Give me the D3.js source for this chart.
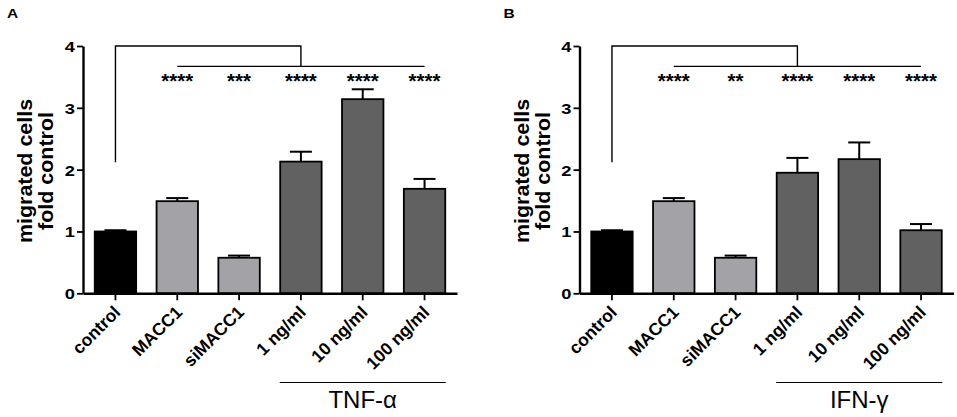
<!DOCTYPE html>
<html>
<head>
<meta charset="utf-8">
<script src="https://cdn.jsdelivr.net/npm/d3@7"></script>
<style>
  body { margin: 0; background: #fff; }
  svg text { font-family: Arial, "Liberation Sans", sans-serif; }
</style>
</head>
<body>
<svg width="957" height="417"></svg>
<script>
// data
var categories = ["control", "MACC1", "siMACC1", "1 ng/ml", "10 ng/ml", "100 ng/ml"];
var tnfMeans = [1.0, 1.49, 0.575, 2.13, 3.14, 1.69];
var tnfErrors = [0.02, 0.05, 0.035, 0.16, 0.16, 0.16];
var ifnMeans = [1.0, 1.49, 0.575, 1.95, 2.17, 1.02];
var ifnErrors = [0.02, 0.05, 0.035, 0.24, 0.27, 0.10];
var tnfStars = ["****", "***", "****", "****", "****"];
var ifnStars = ["****", "**", "****", "****", "****"];
var yTicks = [0, 1, 2, 3, 4];
var barColors = ["#000000", "#a3a3a7", "#a3a3a7", "#616161", "#616161", "#616161"];

var svg = d3.select('svg');

var y = d3.scaleLinear().domain([0, 4]).range([293.3, 46]);

function drawPanel(offset, letter, means, errors, stars, groupLabel){
  var g = svg.append('g').attr('transform', 'translate(' + offset + ',0)');
  var x = d3.scaleBand().domain(categories).range([83, 457])
      .paddingInner(0.33).paddingOuter(0.19);

  g.append('text').attr('transform', 'translate(7,17.5) scale(1.15,1)')
    .attr('font-size', 13.5).attr('font-weight', 'bold').text(letter);

  // bars
  var rows = categories.map(function(c, i){
    return {cat: c, v: means[i], e: errors[i], fill: barColors[i]};
  });
  g.selectAll('rect.bar').data(rows).enter()
    .append('rect')
      .attr('class', 'bar')
      .attr('x', function(d){ return x(d.cat); })
      .attr('y', function(d){ return y(d.v); })
      .attr('width', x.bandwidth())
      .attr('height', function(d){ return y(0) - y(d.v); })
      .attr('fill', function(d){ return d.fill; })
      .attr('stroke', '#000')
      .attr('stroke-width', 1.8);

  // error bars (upper only)
  var cx = function(d){ return x(d.cat) + x.bandwidth() / 2; };
  g.selectAll('line.err').data(rows).enter()
    .append('line')
      .attr('x1', cx).attr('x2', cx)
      .attr('y1', function(d){ return y(d.v); })
      .attr('y2', function(d){ return y(d.v + d.e); })
      .attr('stroke', '#000').attr('stroke-width', 2);
  g.selectAll('line.cap').data(rows).enter()
    .append('line')
      .attr('x1', function(d){ return cx(d) - 11; })
      .attr('x2', function(d){ return cx(d) + 11; })
      .attr('y1', function(d){ return y(d.v + d.e); })
      .attr('y2', function(d){ return y(d.v + d.e); })
      .attr('stroke', '#000').attr('stroke-width', 2);

  // y axis
  var yAxis = g.append('g').attr('transform', 'translate(83,0)')
    .call(d3.axisLeft(y).tickValues(yTicks).tickFormat(d3.format('d')).tickSize(6).tickSizeOuter(0));
  yAxis.select('.domain').attr('stroke-width', 2.4);
  yAxis.selectAll('.tick line').attr('stroke-width', 1.8);
  yAxis.selectAll('.tick text')
    .attr('font-size', 15).attr('font-weight', 'bold')
    .attr('font-family', 'Arial, "Liberation Sans", sans-serif')
    .attr('x', 0).attr('dy', '0.36em')
    .attr('transform', 'translate(-8,0) scale(1.22,1)');

  // x axis
  var xAxis = g.append('g').attr('transform', 'translate(0,' + y(0) + ')')
    .call(d3.axisBottom(x).tickSize(7).tickSizeOuter(0));
  xAxis.select('.domain').attr('stroke-width', 2.4);
  xAxis.selectAll('.tick line').attr('stroke-width', 1.8);
  xAxis.selectAll('.tick text')
    .attr('font-size', 17.5).attr('font-weight', 'bold')
    .attr('font-family', 'Arial, "Liberation Sans", sans-serif')
    .attr('text-anchor', 'end')
    .attr('dy', null)
    .attr('y', 0)
    .attr('transform', 'translate(6,20) rotate(-45)');

  // y title
  var title = g.append('text')
    .attr('transform', 'translate(53,171) rotate(-90) scale(1.1,1)')
    .attr('text-anchor', 'middle')
    .attr('font-size', 19.5).attr('font-weight', 'bold');
  title.append('tspan').attr('x', 0).attr('dy', -21).text('migrated cells');
  title.append('tspan').attr('x', 0).attr('dy', 21).text('fold control');

  // significance brackets
  var c0 = cx(rows[0]), c1 = cx(rows[1]), c3 = cx(rows[3]), c5 = cx(rows[5]);
  var topY = y(4), lowY = y(3.67);
  g.append('path')
    .attr('d', 'M' + c0 + ',' + y(2.12) + 'V' + topY + 'H' + c3 + 'V' + lowY)
    .attr('fill', 'none').attr('stroke', '#000').attr('stroke-width', 1.4);
  g.append('line')
    .attr('x1', c1).attr('x2', c5).attr('y1', lowY).attr('y2', lowY)
    .attr('stroke', '#000').attr('stroke-width', 1.4);
  g.selectAll('text.star').data(stars).enter()
    .append('text')
      .attr('x', function(d, i){ return cx(rows[i + 1]); })
      .attr('y', 88)
      .attr('text-anchor', 'middle')
      .attr('font-size', 20.5).attr('font-weight', 'bold')
      .text(function(d){ return d; });

  // treatment group label
  g.append('line')
    .attr('x1', x(categories[3]) - 0.5).attr('x2', x(categories[5]) + x.bandwidth() + 0.5)
    .attr('y1', 382.5).attr('y2', 382.5)
    .attr('stroke', '#000').attr('stroke-width', 1.2);
  g.append('text')
    .attr('x', cx(rows[4])).attr('y', 408)
    .attr('text-anchor', 'middle').attr('font-size', 24)
    .text(groupLabel);
}

drawPanel(0, 'A', tnfMeans, tnfErrors, tnfStars, 'TNF-\u03b1');
drawPanel(496.5, 'B', ifnMeans, ifnErrors, ifnStars, 'IFN-\u03b3');
</script>
</body>
</html>
